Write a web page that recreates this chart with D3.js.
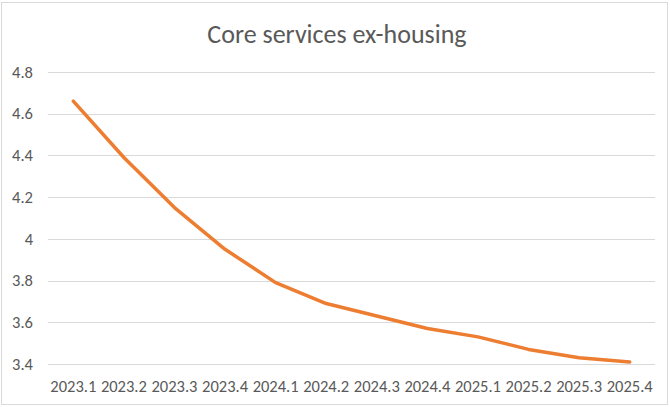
<!DOCTYPE html>
<html>
<head>
<meta charset="utf-8">
<script src="https://cdn.jsdelivr.net/npm/d3@7"></script>
<style>
  html, body { margin: 0; padding: 0; background: #fff; }
  svg { display: block; }
</style>
</head>
<body>
<svg id="chart"></svg>
<script>
const quarters = ["2023.1", "2023.2", "2023.3", "2023.4", "2024.1", "2024.2",
  "2024.3", "2024.4", "2025.1", "2025.2", "2025.3", "2025.4"];
const coreServicesExHousing = [4.66, 4.39, 4.15, 3.95, 3.79, 3.69,
  3.63, 3.57, 3.53, 3.47, 3.43, 3.41];
const yTicks = [3.4, 3.6, 3.8, 4, 4.2, 4.4, 4.6, 4.8];
const chartTitle = "Core services ex-housing";

(function drawChart() {
  const width = 670;
  const height = 407;
  const svg = d3.select("#chart")
    .attr("width", width)
    .attr("height", height);

  const margin = { top: 72, right: 15, bottom: 43, left: 48 };
  const innerWidth = width - margin.left - margin.right;
  const innerHeight = height - margin.top - margin.bottom;
  const fontFamily = "Carlito, 'Liberation Sans', Arial, sans-serif";

  // chart frame
  svg.append("rect")
    .attr("x", 1.5)
    .attr("y", 2.5)
    .attr("width", width - 4)
    .attr("height", height - 5)
    .attr("fill", "#fff")
    .attr("stroke", "#d9d9d9");

  const g = svg.append("g")
    .attr("transform", `translate(${margin.left},${margin.top})`);

  const x = d3.scaleBand()
    .domain(quarters)
    .range([0, innerWidth]);

  const y = d3.scaleLinear()
    .domain([3.4, 4.8])
    .range([innerHeight, 0]);

  // gridlines
  g.append("g")
    .selectAll("line")
    .data(yTicks)
    .enter()
    .append("line")
    .attr("x1", 0)
    .attr("x2", innerWidth)
    .attr("y1", d => Math.round(y(d)) + 0.5)
    .attr("y2", d => Math.round(y(d)) + 0.5)
    .attr("stroke", "#d9d9d9")
    .attr("stroke-width", 1);

  const yAxis = g.append("g")
    .call(d3.axisLeft(y).tickValues(yTicks).tickSize(0).tickPadding(15)
      .tickFormat(d3.format("~g")));
  yAxis.select(".domain").remove();
  yAxis.selectAll("text")
    .attr("fill", "#595959")
    .style("font-family", fontFamily)
    .style("font-size", "16.5px");

  const xAxis = g.append("g")
    .attr("transform", `translate(0,${innerHeight})`)
    .call(d3.axisBottom(x).tickSize(0).tickPadding(16.5));
  xAxis.select(".domain").remove();
  xAxis.selectAll("text")
    .attr("fill", "#595959")
    .style("font-family", fontFamily)
    .style("font-size", "16.5px");

  const line = d3.line()
    .x((d, i) => x(quarters[i]) + x.bandwidth() / 2)
    .y(d => y(d));

  g.append("path")
    .datum(coreServicesExHousing)
    .attr("d", line)
    .attr("fill", "none")
    .attr("stroke", "#ed7d31")
    .attr("stroke-width", 3.5)
    .attr("stroke-linejoin", "round")
    .attr("stroke-linecap", "round");

  svg.append("text")
    .attr("x", 337)
    .attr("y", 43)
    .attr("text-anchor", "middle")
    .attr("fill", "#595959")
    .style("font-family", fontFamily)
    .style("font-size", "26px")
    .text(chartTitle);
})();
</script>
</body>
</html>
